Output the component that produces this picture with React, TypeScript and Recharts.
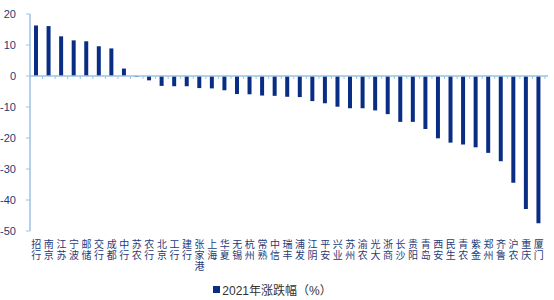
import { BarChart, Bar, XAxis, YAxis, Legend, ReferenceLine } from "recharts";

const categories = [
  "招行", "南京", "江苏", "宁波", "邮储", "交行", "成都", "中行", "苏农", "农行",
  "北京", "工行", "建行", "张家港", "上海", "华夏", "无锡", "杭州", "常熟", "中信",
  "瑞丰", "浦发", "江阴", "平安", "兴业", "苏州", "渝农", "光大", "浙商", "长沙",
  "贵阳", "青岛", "西安", "民生", "青农", "紫金", "郑州", "齐鲁", "沪农", "重庆",
  "厦门",
];

const changes = [
  16.3, 16.1, 12.8, 11.5, 11.2, 9.6, 8.9, 2.4, -0.3, -1.4,
  -3.2, -3.3, -3.3, -3.9, -4.0, -4.6, -5.8, -5.9, -6.3, -6.4,
  -6.7, -6.8, -8.1, -8.8, -9.9, -10.4, -10.4, -11.1, -12.3, -14.8,
  -14.8, -17.1, -20.1, -21.5, -22.1, -23.0, -24.8, -27.5, -34.4, -42.9,
  -47.5,
];

const yTicks = [20, 10, 0, -10, -20, -30, -40, -50];

const seriesName = "2021年涨跌幅（%）";

const BAR_COLOR = "#0a2d84";
const AXIS_COLOR = "#9dc3e6";
const TEXT_COLOR = "#1f3a78";

const data = categories.map((name, i) => ({ name, value: changes[i] }));

// vertical stacked chars under each bar, one text per char
const StackedTick = (props: any) => {
  const { x, y, payload } = props;
  const chars = String(payload.value).split("");
  return (
    <g>
      {chars.map((c, i) => (
        <text
          key={i}
          x={x}
          y={y + 17 + i * 11}
          textAnchor="middle"
          fill={TEXT_COLOR}
          fontSize={10}
          fontFamily="'Noto Sans CJK SC', sans-serif"
        >
          {c}
        </text>
      ))}
    </g>
  );
};

// zero line with small tick marks at category boundaries
const ZeroAxis = (props: any) => {
  const { x1, y1, x2 } = props;
  const n = categories.length;
  const step = (x2 - x1) / n;
  const marks = [];
  for (let i = 1; i <= n; i++) {
    const tx = x1 + i * step;
    marks.push(<line key={i} x1={tx} y1={y1} x2={tx} y2={y1 + 3} stroke={AXIS_COLOR} strokeWidth={1} />);
  }
  return (
    <g>
      <line x1={x1} y1={y1} x2={x2 + 3} y2={y1} stroke={AXIS_COLOR} strokeWidth={1.5} />
      {marks}
    </g>
  );
};

const LegendContent = () => (
  <div
    style={{
      height: 29,
      display: "flex",
      justifyContent: "center",
      alignItems: "center",
      paddingTop: 8,
      boxSizing: "border-box",
      fontFamily: "'Liberation Sans', 'Noto Sans CJK SC', sans-serif",
      fontSize: 12,
      color: "#333",
    }}
  >
    <span style={{ width: 7, height: 7, background: BAR_COLOR, display: "inline-block", marginRight: 2 }} />
    <span>{seriesName}</span>
  </div>
);

export default function App() {
  return (
    <div style={{ position: "absolute", left: 0, top: 0, width: 554, height: 300, background: "#fff" }}>
      <BarChart width={554} height={300} data={data} margin={{ top: 14, right: 9, left: 0, bottom: 0 }}>
        <XAxis
          dataKey="name"
          interval={0}
          axisLine={false}
          tickLine={false}
          tickSize={0}
          tickMargin={0}
          height={40}
          tick={<StackedTick />}
        />
        <YAxis
          domain={[-50, 20]}
          ticks={yTicks}
          width={30}
          tickSize={4}
          tickMargin={10}
          axisLine={{ stroke: AXIS_COLOR, strokeWidth: 1.5 }}
          tickLine={{ stroke: AXIS_COLOR }}
          tick={{ fill: TEXT_COLOR, fontSize: 11, fontFamily: "'Liberation Sans', sans-serif" }}
        />
        <Bar dataKey="value" name={seriesName} fill={BAR_COLOR} barSize={4} isAnimationActive={false} />
        <ReferenceLine y={0} shape={<ZeroAxis />} />
        <Legend verticalAlign="bottom" height={29} content={<LegendContent />} />
      </BarChart>
    </div>
  );
}
